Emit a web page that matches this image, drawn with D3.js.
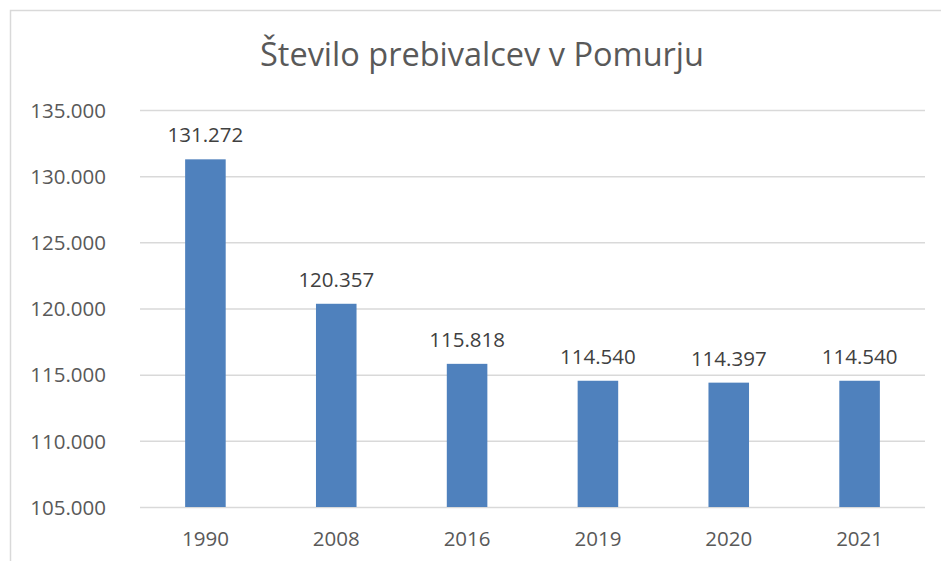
<!DOCTYPE html>
<html>
<head>
<meta charset="utf-8">
<script src="https://cdn.jsdelivr.net/npm/d3@7"></script>
<style>
  body { margin: 0; background: #fff; }
  svg text { font-family: "Open Sans", Lato, sans-serif; }
</style>
</head>
<body>
<div class="chart"></div>
<script>
// podatki
const years = ['1990', '2008', '2016', '2019', '2020', '2021'];
const population = [131272, 120357, 115818, 114540, 114397, 114540];
const y_ticks = [105000, 110000, 115000, 120000, 125000, 130000, 135000];
const title = 'Število prebivalcev v Pomurju';

const fmt = v => d3.format(',')(v).replace(/,/g, '.');

const svg_width = 941;
const svg_height = 561;
const margin = {top: 110, right: 16, bottom: 54, left: 140};
const chart_width = svg_width - margin.left - margin.right;
const chart_height = svg_height - margin.top - margin.bottom;

const svg = d3.select('.chart').append('svg')
    .attr('width', svg_width)
    .attr('height', svg_height);

// okvir
svg.append('rect')
    .attr('x', 10.5).attr('y', 10.5)
    .attr('width', 960).attr('height', 600)
    .style('fill', 'none')
    .style('stroke', '#d9d9d9')
    .style('stroke-width', 1.5);

const g = svg.append('g')
    .attr('transform', `translate(${margin.left}, ${margin.top})`);

const x_scale = d3.scaleBand().domain(years).range([0, chart_width]).padding(0);
const y_scale = d3.scaleLinear().domain([105000, 135000]).range([chart_height, 0]);
const bar_w = x_scale.bandwidth() * 0.31;

// mreža
g.append('g').attr('class', 'grid')
    .call(d3.axisLeft(y_scale).tickValues(y_ticks).tickSize(-chart_width).tickFormat(''))
    .call(s => s.select('.domain').remove())
    .call(s => s.selectAll('line').style('stroke', '#d9d9d9').style('stroke-width', 1.5));

// y os
g.append('g').attr('class', 'y axis')
    .call(d3.axisLeft(y_scale).tickValues(y_ticks).tickSize(0).tickFormat(fmt))
    .call(s => s.select('.domain').remove())
    .call(s => s.selectAll('text')
        .attr('x', -34)
        .attr('dy', '0.35em')
        .style('font-size', '20.5px')
        .style('fill', '#595959'));

// stolpci
g.selectAll('.bar').data(population).enter()
    .append('rect')
    .attr('class', 'bar')
    .attr('x', (d, i) => x_scale(years[i]) + (x_scale.bandwidth() - bar_w) / 2)
    .attr('y', d => y_scale(d))
    .attr('width', bar_w)
    .attr('height', d => chart_height - y_scale(d))
    .style('fill', '#4f81bd');

// vrednosti
g.selectAll('.label').data(population).enter()
    .append('text')
    .attr('class', 'label')
    .attr('x', (d, i) => x_scale(years[i]) + x_scale.bandwidth() / 2)
    .attr('y', d => y_scale(d) - 17)
    .attr('text-anchor', 'middle')
    .style('font-size', '20.5px')
    .style('fill', '#404040')
    .text(fmt);

// x os
g.append('g').attr('class', 'x axis')
    .attr('transform', `translate(0, ${chart_height})`)
    .call(d3.axisBottom(x_scale).tickSize(0))
    .call(s => s.select('.domain').remove())
    .call(s => s.selectAll('text')
        .attr('y', 39)
        .attr('dy', 0)
        .style('font-size', '20.5px')
        .style('fill', '#595959'));

// naslov
svg.append('text')
    .attr('x', 482)
    .attr('y', 66)
    .attr('text-anchor', 'middle')
    .style('font-size', '32.5px')
    .style('fill', '#595959')
    .text(title);
</script>
</body>
</html>
